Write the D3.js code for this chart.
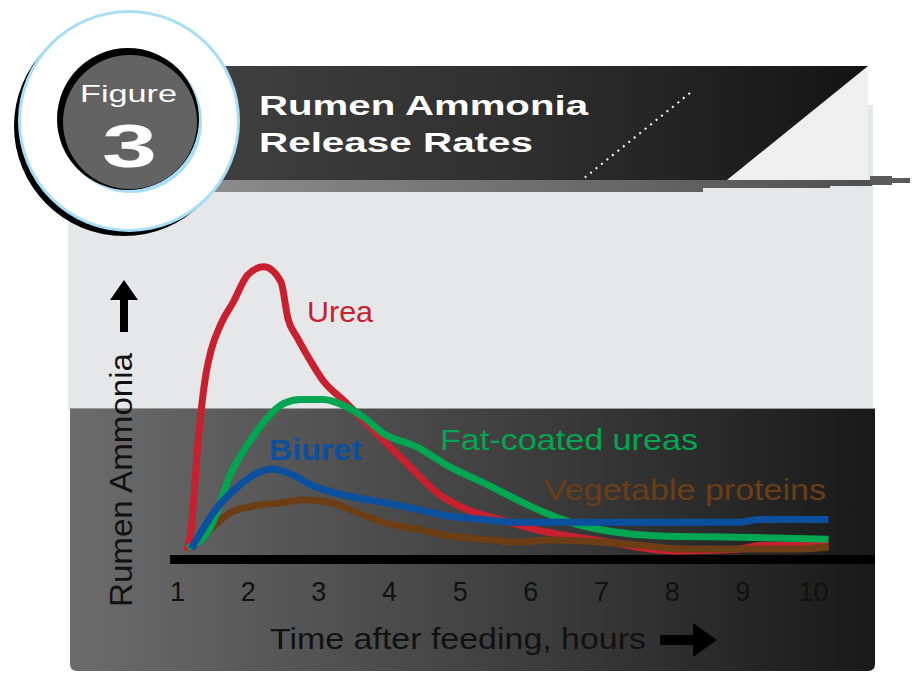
<!DOCTYPE html>
<html><head><meta charset="utf-8">
<script src="https://cdn.jsdelivr.net/npm/d3@7"></script>
<style>html,body{margin:0;padding:0;background:#fff}svg{display:block}</style>
</head><body>
<script>
// ---- data ----
const figureLabel = "Figure";
const figureNumber = "3";
const titleLines = ["Rumen Ammonia", "Release Rates"];
const xTicks = [1, 2, 3, 4, 5, 6, 7, 8, 9, 10];
const xTitle = "Time after feeding, hours";
const yTitle = "Rumen Ammonia";
const seriesNames = ["Urea", "Vegetable proteins", "Fat-coated ureas", "Biuret"];
const seriesColors = ["#c8202f", "#6b3e16", "#00a651", "#0b4f9f"];
const ureaHours = [1.14,1.2,1.3,1.41,1.48,1.62,1.8,2.0,2.23,2.47,2.57,2.71,2.89,3.07,3.36,3.64,3.92,4.3,4.68,5.1,5.57,6.04,6.56,7.12,7.69,8.1,8.9,9.3,10.22];
const ureaValues = [0,7.6,38.6,61.7,69.7,79,86.9,96.2,99,93.8,81,74,66.2,59.3,52.4,45.5,38.6,29.3,20.3,14.5,11,7.6,5.2,3.1,0.7,0,0.5,2,2];
const vegHours = [1.23,1.58,1.76,2.04,2.51,2.79,3.17,3.55,3.92,4.4,4.86,5.33,5.81,6.27,6.98,7.69,8.1,9.8,10.22];
const vegValues = [1.4,10,13.4,15.5,16.9,17.9,16.9,13.4,10,7.6,5.2,4.1,3.1,3.8,3.1,1.7,0.7,0.7,1.4];
const fatHours = [1.15,1.48,1.76,2.04,2.28,2.51,2.75,3.07,3.36,3.64,3.92,4.4,4.86,5.33,5.81,6.2,6.66,7.12,7.83,8.95,10.22];
const fatValues = [1,8.6,27,38.6,46.5,51.4,52.8,52.8,50.7,46.6,41,36.2,29.3,23.8,17.9,13.4,9.3,6.9,5.2,4.8,4.1];
const biuretHours = [1.2,1.58,1.86,2.14,2.35,2.6,2.89,3.17,3.45,3.92,4.4,4.86,5.33,5.81,6.98,8.95,9.24,10.22];
const biuretValues = [0.7,15.5,22.4,27.2,28.6,26.9,23.1,20.7,19,16.9,14.5,12.1,11,10,10,10,11,11];

const W = 913, H = 674;
const svg = d3.select("body").append("svg").attr("width", W).attr("height", H);
const defs = svg.append("defs");
function lg(id, stops){const g=defs.append("linearGradient").attr("id",id).attr("x1","0").attr("x2","1").attr("y1","0").attr("y2","0");stops.forEach(s=>g.append("stop").attr("offset",s[0]).attr("stop-color",s[1]));}
lg("darkPanel", [[0,"#6c6c6c"],[0.45,"#474747"],[1,"#191919"]]);
lg("header", [[0,"#404040"],[0.5,"#2e2e2e"],[1,"#141414"]]);
lg("band", [[0,"#8c8c8c"],[1,"#505050"]]);

// light panel
svg.append("rect").attr("x",68).attr("y",105).attr("width",805).attr("height",305).attr("fill","#e6e7e8");
svg.append("rect").attr("x",700).attr("y",66).attr("width",168).attr("height",116).attr("fill","#efefef");
// dark panel
svg.append("path").attr("d","M70,408 H875 V664 Q875,671 868,671 H77 Q70,671 70,664 Z").attr("fill","url(#darkPanel)");
svg.append("line").attr("x1",70).attr("x2",875).attr("y1",408.5).attr("y2",408.5).attr("stroke","#9a9a9a").attr("stroke-width",1);

// header
svg.append("path").attr("d","M200,66 H868 L727,180 H200 Z").attr("fill","url(#header)");
svg.append("path").attr("d","M200,180 H872 V186 H830 V188 H703 V192 H200 Z").attr("fill","url(#band)");
svg.append("rect").attr("x",870).attr("y",176).attr("width",22).attr("height",9).attr("fill","#5a5a5a");
svg.append("rect").attr("x",890).attr("y",178).attr("width",20).attr("height",5).attr("fill","#5a5a5a");
svg.append("line").attr("x1",690).attr("y1",93).attr("x2",583).attr("y2",179).attr("stroke","#fff").attr("stroke-width",2).attr("stroke-dasharray","2,5");
titleLines.forEach((t,i)=>{
  svg.append("text").attr("x",259).attr("y",115+i*37).attr("fill","#fff").attr("font-family","Liberation Sans, Arial, sans-serif").attr("font-weight","bold").attr("font-size",27)
    .attr("textLength", i===0?329:274).attr("lengthAdjust","spacingAndGlyphs").text(t);
});

// figure badge
svg.append("circle").attr("cx",124).attr("cy",126).attr("r",110).attr("fill","#000");
svg.append("circle").attr("cx",129).attr("cy",121).attr("r",111).attr("fill","#a8def5");
svg.append("circle").attr("cx",129).attr("cy",121).attr("r",108).attr("fill","#fff");
svg.append("circle").attr("cx",131).attr("cy",122).attr("r",71).attr("fill","#a8def5");
svg.append("circle").attr("cx",128).attr("cy",119).attr("r",71).attr("fill","#000");
svg.append("circle").attr("cx",130).attr("cy",122).attr("r",67).attr("fill","#636363");
svg.append("text").attr("x",80).attr("y",102).attr("fill","#fff").attr("font-family","Liberation Sans, Arial, sans-serif").attr("font-size",24)
  .attr("textLength",97).attr("lengthAdjust","spacingAndGlyphs").text(figureLabel);
svg.append("text").attr("x",102).attr("y",167).attr("fill","#fff").attr("font-family","Liberation Sans, Arial, sans-serif").attr("font-weight","bold").attr("font-size",62)
  .attr("textLength",55).attr("lengthAdjust","spacingAndGlyphs").text(figureNumber);

// scales
const x = d3.scaleLinear().domain([1,10]).range([177,813]);
const y = d3.scaleLinear().domain([0,100]).range([551,264]);

// baseline
svg.append("rect").attr("x",170).attr("y",555).attr("width",705).attr("height",9).attr("fill","#000");

// x axis ticks
const xAxis = d3.axisBottom(x).tickValues(xTicks).tickSize(0).tickPadding(0).tickFormat(d3.format("d"));
const gx = svg.append("g").attr("transform","translate(0,582)").call(xAxis);
gx.select(".domain").remove();
gx.selectAll("text").attr("fill","#111").attr("font-family","Liberation Sans, Arial, sans-serif").attr("font-size",27).attr("dy","0.71em");

// lines
const line = d3.line().x(d=>x(d[0])).y(d=>y(d[1])).curve(d3.curveMonotoneX);
const data = [
  d3.zip(ureaHours, ureaValues),
  d3.zip(vegHours, vegValues),
  d3.zip(fatHours, fatValues),
  d3.zip(biuretHours, biuretValues)
];
data.forEach((pts,i)=>{
  svg.append("path").datum(pts).attr("d",line).attr("fill","none").attr("stroke",seriesColors[i]).attr("stroke-width",7).attr("stroke-linejoin","round");
});

// series labels
const lab = [
  {t:seriesNames[0], x:307, y:322, c:seriesColors[0], w:66, b:false},
  {t:seriesNames[3], x:269, y:460, c:seriesColors[3], w:93, b:true},
  {t:seriesNames[2], x:440, y:450, c:seriesColors[2], w:258, b:false},
  {t:seriesNames[1], x:544, y:500, c:seriesColors[1], w:282, b:false}
];
lab.forEach(l=>{
  svg.append("text").attr("x",l.x).attr("y",l.y).attr("fill",l.c).attr("font-family","Liberation Sans, Arial, sans-serif").attr("font-size",30)
    .attr("font-weight", l.b?"bold":"normal").attr("textLength",l.w).attr("lengthAdjust","spacingAndGlyphs").text(l.t);
});

// axis titles
svg.append("text").attr("transform","translate(132,607) rotate(-90)").attr("fill","#111").attr("font-family","Liberation Sans, Arial, sans-serif").attr("font-size",31)
  .attr("textLength",254).attr("lengthAdjust","spacingAndGlyphs").text(yTitle);
svg.append("text").attr("x",270).attr("y",649).attr("fill","#111").attr("font-family","Liberation Sans, Arial, sans-serif").attr("font-size",30)
  .attr("textLength",376).attr("lengthAdjust","spacingAndGlyphs").text(xTitle);

// arrows
svg.append("path").attr("d","M660,635 H693 V623 L717,640 L693,657 V645 H660 Z").attr("fill","#000");
svg.append("path").attr("d","M120,332 V300 H110 L124,280 L138,300 H128 V332 Z").attr("fill","#000");
</script>
</body></html>
